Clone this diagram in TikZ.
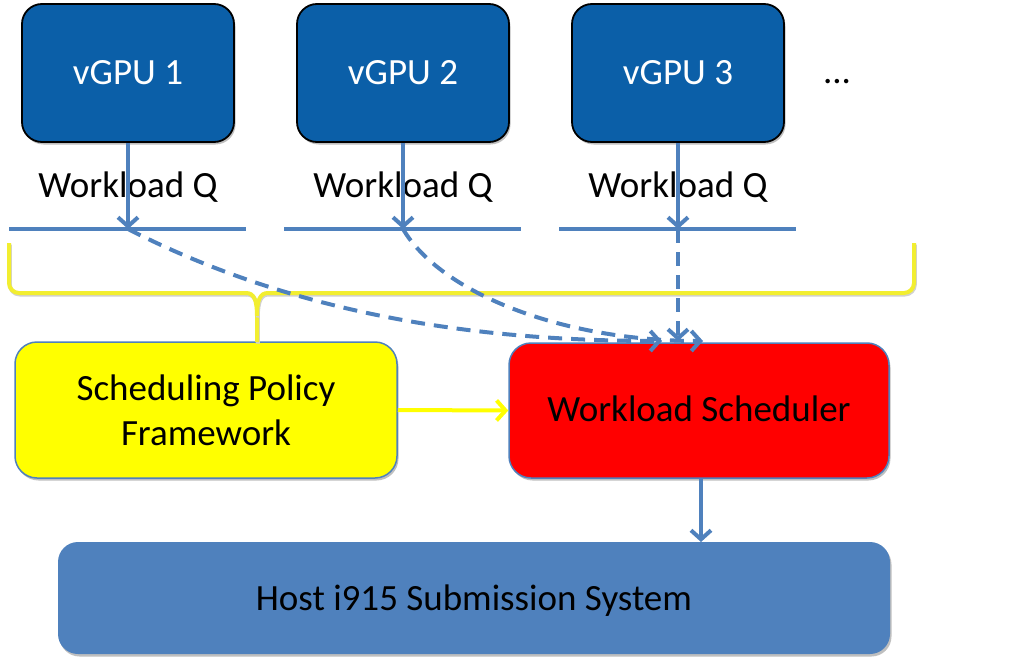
\documentclass[tikz,border=0pt]{standalone}
\usepackage{fontspec}
\setmainfont{Carlito}
\usetikzlibrary{arrows.meta,shadows}
\definecolor{vgpu}{HTML}{0B5FA8}
\definecolor{accent}{HTML}{4F81BD}
\definecolor{ylw}{HTML}{FFFF00}
\definecolor{bracecol}{HTML}{F2EE30}
\definecolor{redbox}{HTML}{FF0000}
\tikzset{
  shad/.style={drop shadow={shadow xshift=1.5pt, shadow yshift=-2.5pt, opacity=0.25, fill=black}},
  vgpubox/.style={shad, draw=black, line width=1.8pt, fill=vgpu, rounded corners=20pt,
    minimum width=212pt, minimum height=138pt, inner sep=0pt},
  policybox/.style={shad, draw=accent, line width=1.5pt, fill=ylw, rounded corners=22pt,
    minimum width=382pt, minimum height=136pt, inner sep=0pt},
  schedbox/.style={shad, draw=accent, line width=1.5pt, fill=redbox, rounded corners=22pt,
    minimum width=380pt, minimum height=135pt, inner sep=0pt},
  hostbox/.style={shad, fill=accent, rounded corners=20pt,
    minimum width=832pt, minimum height=112pt, inner sep=0pt},
  lbl/.style={anchor=base, inner sep=0pt, font=\fontsize{37}{45}\selectfont},
  qline/.style={draw=accent, line width=4pt},
  conn/.style={draw=accent, line width=4pt, -{Straight Barb[length=9pt,width=20pt]}},
  dconn/.style={conn, dash pattern=on 14pt off 9pt},
  yconn/.style={draw=ylw, line width=4pt, -{Straight Barb[length=9pt,width=20pt]}},
  bline/.style={draw=bracecol, line width=4pt,
    preaction={draw=black!18, line width=4pt, transform canvas={xshift=0.8pt,yshift=-1.5pt}}},
}
\begin{document}
\begin{tikzpicture}[x=1pt,y=-1pt]
\useasboundingbox (0,0) rectangle (1022,666);

% vGPU boxes
\node[vgpubox] (v1) at (128,73) {};
\node[vgpubox] (v2) at (403,73) {};
\node[vgpubox] (v3) at (678,73) {};
\node[lbl, text=white] (v1t) at (128,85) {vGPU 1};
\node[lbl, text=white] (v2t) at (403,85) {vGPU 2};
\node[lbl, text=white] (v3t) at (678,85) {vGPU 3};
\node[lbl] (dots) at (837,84) {...};

% workload queue labels
\node[lbl] (w1) at (128,197) {Workload Q};
\node[lbl] (w2) at (403,197) {Workload Q};
\node[lbl] (w3) at (678,197) {Workload Q};

% queue lines
\coordinate (q1) at (128,229);
\coordinate (q2) at (403,229);
\coordinate (q3) at (678,229);
\draw[qline] (9,229) -- (246,229);
\draw[qline] (284,229) -- (521,229);
\draw[qline] (559,229) -- (796,229);

% main boxes
\node[policybox] (spf) at (206,410) {};
\node[lbl] (spft1) at (206,400) {Scheduling Policy};
\node[lbl] (spft2) at (206,445) {Framework};
\node[schedbox] (ws) at (699,410.5) {};
\node[lbl] (wst) at (699,421) {Workload Scheduler};
\node[hostbox] (host) at (474,598) {};
\node[lbl] (hostt) at (474,610) {Host i915 Submission System};

% brace
\coordinate (brtip) at (257,342);
\draw[bline, rounded corners=10pt] (9,243) -- (9,293) -- (246,293);
\draw[bline] (246,293) .. controls (254,293) and (257,300) .. (257,316) -- (brtip);
\draw[bline] (257,316) .. controls (257,300) and (260,293) .. (268,293);
\draw[bline, rounded corners=10pt] (268,293) -- (914,293) -- (914,243);

% arrows vGPU -> queues
\draw[conn] (v1.south) -- (q1);
\draw[conn] (v2.south) -- (q2);
\draw[conn] (v3.south) -- (q3);

% dashed arrows to scheduler
\coordinate (e1) at (662,341);
\coordinate (e2) at (703,341);
\coordinate (e3) at (678,341);
\draw[dconn] (q1) .. controls (310,322) and (500,341) .. (e1);
\draw[dconn] (q2) .. controls (440,292) and (560,341) .. (e2);
\draw[dconn] (q3) -- (e3);

% policy -> scheduler
\draw[yconn] (spf.east) -- (ws.west);
% scheduler -> host
\coordinate (wsb) at (701,478);
\coordinate (hostt0) at (701,542);
\draw[conn] (wsb) -- (hostt0);
\end{tikzpicture}
\end{document}
